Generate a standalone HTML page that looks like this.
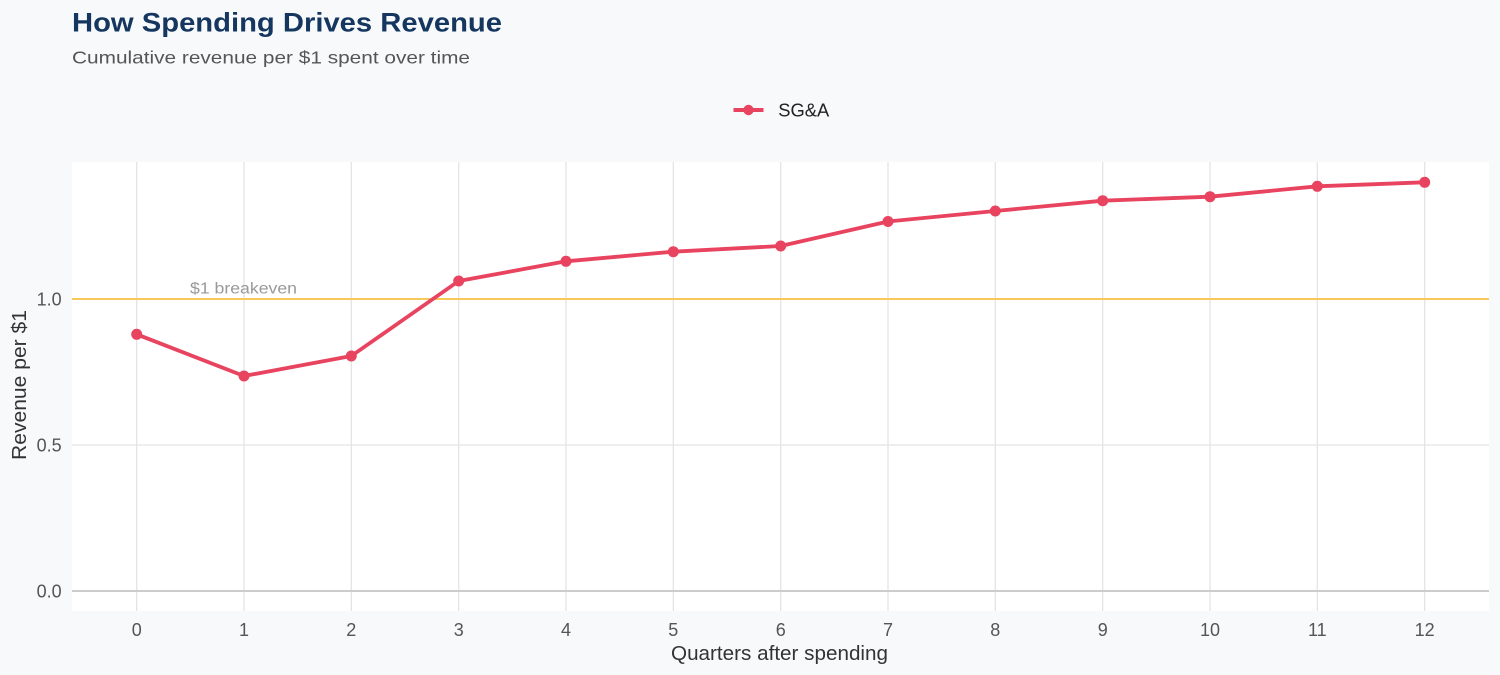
<!DOCTYPE html>
<html>
<head>
<meta charset="utf-8">
<style>
html,body{margin:0;padding:0;background:#f8f9fb;}
svg{display:block;font-family:"Liberation Sans",Arial,sans-serif;}
</style>
</head>
<body>
<svg width="1500" height="675" viewBox="0 0 1500 675" xmlns="http://www.w3.org/2000/svg">
<rect x="0" y="0" width="1500" height="675" fill="#f8f9fb"/>
<text x="72" y="31.5" font-size="26.5" font-weight="bold" fill="#14365f" textLength="430" lengthAdjust="spacingAndGlyphs">How Spending Drives Revenue</text>
<text x="72" y="63.5" font-size="17.5" fill="#555555" textLength="398" lengthAdjust="spacingAndGlyphs">Cumulative revenue per $1 spent over time</text>

<!-- legend -->
<line x1="733.5" y1="110" x2="763.5" y2="110" stroke="#e8435f" stroke-width="4"/>
<circle cx="748.5" cy="110" r="5.2" fill="#e8435f"/>
<text x="778.3" y="116.5" font-size="18" fill="#222" textLength="51" lengthAdjust="spacingAndGlyphs">SG&amp;A</text>

<!-- panel -->
<rect x="72" y="162" width="1417" height="449" fill="#ffffff"/>
<g stroke="#e4e4e4" stroke-width="1.3">
<line x1="136.7" y1="162" x2="136.7" y2="611"/>
<line x1="244" y1="162" x2="244" y2="611"/>
<line x1="351.3" y1="162" x2="351.3" y2="611"/>
<line x1="458.7" y1="162" x2="458.7" y2="611"/>
<line x1="566" y1="162" x2="566" y2="611"/>
<line x1="673.3" y1="162" x2="673.3" y2="611"/>
<line x1="780.7" y1="162" x2="780.7" y2="611"/>
<line x1="888" y1="162" x2="888" y2="611"/>
<line x1="995.3" y1="162" x2="995.3" y2="611"/>
<line x1="1102.7" y1="162" x2="1102.7" y2="611"/>
<line x1="1210" y1="162" x2="1210" y2="611"/>
<line x1="1317.3" y1="162" x2="1317.3" y2="611"/>
<line x1="1424.7" y1="162" x2="1424.7" y2="611"/>
<line x1="72" y1="445" x2="1489" y2="445"/>
</g>
<line x1="72" y1="591" x2="1489" y2="591" stroke="#cccccc" stroke-width="2"/>
<line x1="72" y1="299" x2="1489" y2="299" stroke="#f7c85a" stroke-width="2"/>
<text x="190" y="293.3" font-size="15.5" fill="#999999" textLength="107" lengthAdjust="spacingAndGlyphs">$1 breakeven</text>

<polyline fill="none" stroke="#e8435f" stroke-width="3.8" stroke-linejoin="round"
points="136.7,334.3 244,376 351.3,356 458.7,281 566,261.3 673.3,251.7 780.7,246 888,221.5 995.3,211 1102.7,200.7 1210,196.7 1317.3,186.3 1424.7,182.3"/>
<g fill="#e8435f">
<circle cx="136.7" cy="334.3" r="5.5"/>
<circle cx="244" cy="376" r="5.5"/>
<circle cx="351.3" cy="356" r="5.5"/>
<circle cx="458.7" cy="281" r="5.5"/>
<circle cx="566" cy="261.3" r="5.5"/>
<circle cx="673.3" cy="251.7" r="5.5"/>
<circle cx="780.7" cy="246" r="5.5"/>
<circle cx="888" cy="221.5" r="5.5"/>
<circle cx="995.3" cy="211" r="5.5"/>
<circle cx="1102.7" cy="200.7" r="5.5"/>
<circle cx="1210" cy="196.7" r="5.5"/>
<circle cx="1317.3" cy="186.3" r="5.5"/>
<circle cx="1424.7" cy="182.3" r="5.5"/>
</g>

<!-- y tick labels -->
<g font-size="18" fill="#555555" text-anchor="end">
<text x="61.7" y="597.5">0.0</text>
<text x="61.7" y="451.5">0.5</text>
<text x="61.7" y="305.5">1.0</text>
</g>
<!-- x tick labels -->
<g font-size="18" fill="#555555" text-anchor="middle">
<text x="136.7" y="636">0</text>
<text x="244" y="636">1</text>
<text x="351.3" y="636">2</text>
<text x="458.7" y="636">3</text>
<text x="566" y="636">4</text>
<text x="673.3" y="636">5</text>
<text x="780.7" y="636">6</text>
<text x="888" y="636">7</text>
<text x="995.3" y="636">8</text>
<text x="1102.7" y="636">9</text>
<text x="1210" y="636">10</text>
<text x="1317.3" y="636">11</text>
<text x="1424.7" y="636">12</text>
</g>
<text x="671" y="660" font-size="20.5" fill="#333333" textLength="217" lengthAdjust="spacingAndGlyphs">Quarters after spending</text>
<text transform="translate(26,460) rotate(-90)" font-size="20" fill="#333333" textLength="150" lengthAdjust="spacingAndGlyphs">Revenue per $1</text>
</svg>
</body>
</html>
